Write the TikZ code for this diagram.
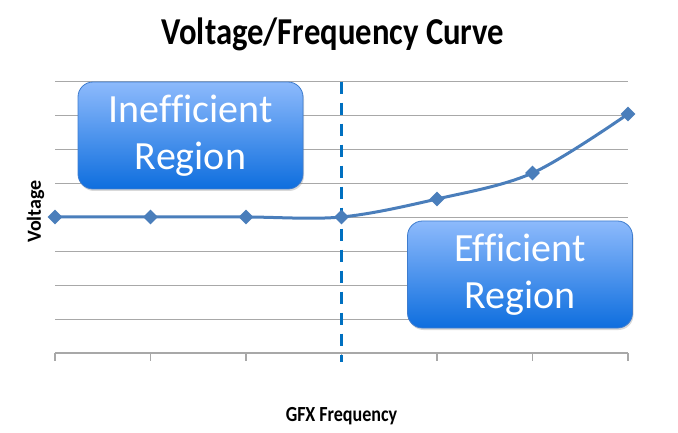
\documentclass[tikz,border=0pt]{standalone}
\usepackage{fontspec}
\setmainfont{Carlito}[Ligatures=NoCommon]
\usepackage{tikz}
\usetikzlibrary{calc,shapes.geometric,shadows}

\definecolor{curveblue}{RGB}{74,126,187}
\definecolor{splitblue}{RGB}{0,112,192}
\definecolor{boxtop}{RGB}{141,186,252}
\definecolor{boxbottom}{RGB}{14,110,222}
\definecolor{boxedge}{RGB}{62,124,206}
\definecolor{gridgray}{RGB}{168,168,168}

\begin{document}
\begin{tikzpicture}
    [   x=1pt,y=-1pt,
        vmark/.style={diamond,fill=curveblue,inner sep=0pt,minimum size=15pt},
        regionbox/.style={draw=boxedge,line width=0.8pt,top color=boxtop,bottom color=boxbottom,
            rounded corners=15pt,minimum width=225pt,minimum height=107pt,align=center,
            text=white,font=\fontsize{40}{47}\selectfont,drop shadow={opacity=0.3,shadow xshift=1pt,shadow yshift=-2pt}},
        axislabel/.style={font=\bfseries\fontsize{#1}{#1}\selectfont,inner sep=0pt},
    ]
        \useasboundingbox (0,0) rectangle (678,433);
        % grid and axis
        \foreach \k in {1,...,8}
            \draw[gridgray,line width=1.2pt] (55,{353-33.9*\k}) -- (628,{353-33.9*\k});
        \draw[gridgray,line width=1.2pt] (55,353) -- (628,353);
        \foreach \i in {0,...,6}
            \draw[gridgray,line width=1.2pt] ({55+95.5*\i},353) -- ({55+95.5*\i},361);
        % boxes
        \node[regionbox] (ineff) at (190.5,135.5) {Inefficient\\Region};
        \node[regionbox] (eff) at (520,274.5) {Efficient\\Region};
        % split line
        \coordinate (split-top) at (341,81.7);
        \coordinate (split-bot) at (341,362);
        \draw[splitblue,line width=3pt,dash pattern=on 12pt off 9pt] (split-top) -- (split-bot);
        % curve
        \foreach \i/\v in {0/217,1/217,2/217,3/217,4/199,5/173,6/114}
            \coordinate (v-\i) at ({55+95.5*\i},\v);
        \draw[curveblue,line width=3pt] plot[smooth,tension=0.55] coordinates {(v-0) (v-1) (v-2) (v-3) (v-4) (v-5) (v-6)};
        \foreach \i in {0,...,6}
            \node[vmark] (m-\i) at (v-\i) {};
        % labels
        \node[axislabel=38,xscale=0.86,anchor=base] (title) at (333,45) {Voltage/Frequency Curve};
        \node[axislabel=20,rotate=90] (ylab) at (35.5,211.5) {Voltage};
        \node[axislabel=21.5,xscale=0.84,anchor=base] (xlab) at (341.5,421.7) {GFX Frequency};
    \end{tikzpicture}
\end{document}
